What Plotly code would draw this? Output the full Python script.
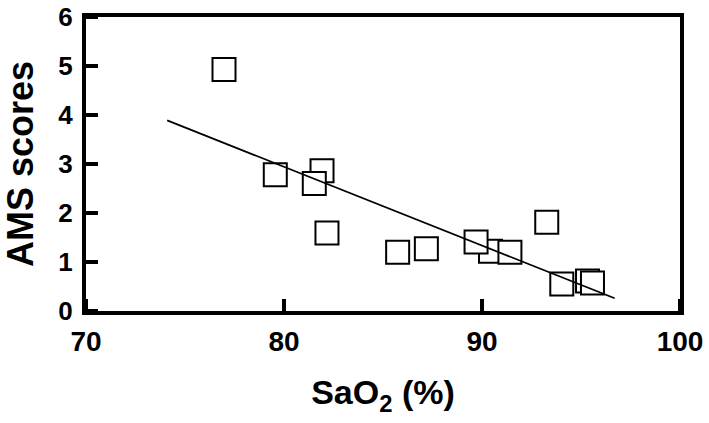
import plotly.graph_objects as go

# ------------------------------
# Data
# ------------------------------
sao2 = [76.97, 79.56, 81.92, 81.53, 82.17, 85.74, 87.19, 90.43, 89.70, 91.41, 93.27, 94.03, 95.33, 95.58]
ams = [4.93, 2.78, 2.86, 2.60, 1.59, 1.20, 1.27, 1.22, 1.41, 1.20, 1.81, 0.55, 0.61, 0.57]

# regression line end points
fit_x = [74.1, 96.7]
fit_y = [3.89, 0.26]

x_ticks = [70, 80, 90, 100]
y_ticks = [0, 1, 2, 3, 4, 5, 6]

FONT = "Liberation Sans"

# ------------------------------
# Figure
# ------------------------------
fig = go.Figure()

fig.add_trace(go.Scatter(
    x=sao2, y=ams, mode="markers",
    marker=dict(symbol="square", size=23, color="white",
                line=dict(color="black", width=2)),
    showlegend=False,
))

fig.add_trace(go.Scatter(
    x=fit_x, y=fit_y, mode="lines",
    line=dict(color="black", width=1.8),
    showlegend=False,
))

# tick marks through minor ticks, labels from the major ones
tick_style = dict(ticks="inside", ticklen=12, tickwidth=4, tickcolor="black")

fig.update_xaxes(
    range=[70, 100], tickvals=x_ticks, ticks="",
    minor=dict(tickvals=x_ticks, **tick_style),
    showline=True, linewidth=4, linecolor="black", mirror=True,
    showgrid=False, zeroline=False,
    tickfont=dict(family=FONT, size=28, color="black", weight="bold"),
    ticklabelstandoff=2,
    title=dict(text="SaO<sub>2</sub> (%)", standoff=26,
               font=dict(family=FONT, size=34, color="black", weight="bold")),
)
fig.update_yaxes(
    range=[0, 6], tickvals=y_ticks, ticks="",
    minor=dict(tickvals=y_ticks, **tick_style),
    showline=True, linewidth=4, linecolor="black", mirror=True,
    showgrid=False, zeroline=False,
    tickfont=dict(family=FONT, size=26, color="black", weight="bold"),
    ticklabelstandoff=4,
    title=dict(text="AMS scores", standoff=26,
               font=dict(family=FONT, size=36, color="black", weight="bold")),
)

fig.update_layout(
    width=709, height=423,
    plot_bgcolor="white", paper_bgcolor="white",
    margin=dict(l=86, r=29, t=17, b=112, autoexpand=False),
)

fig.write_html("out.html", config={"displayModeBar": False},
               post_script="document.body.style.margin = '0';")
